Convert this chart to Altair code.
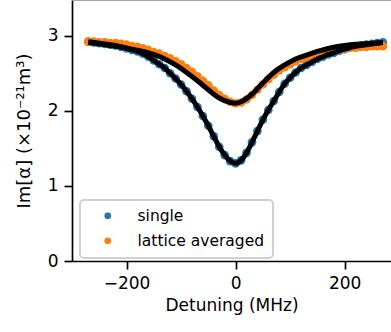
import altair as alt
import pandas as pd

# Detuning grid (MHz) of the scattered data
detuning = [-270, -260, -250, -240, -230, -220, -210, -200, -190, -180,
            -170, -160, -150, -140, -130, -120, -110, -100, -90, -80,
            -70, -60, -50, -40, -30, -20, -10, 0, 10, 20,
            30, 40, 50, 60, 70, 80, 90, 100, 110, 120,
            130, 140, 150, 160, 170, 180, 190, 200, 210, 220,
            230, 240, 250, 260, 270]

single = [2.92, 2.91, 2.90, 2.89, 2.88, 2.87, 2.85, 2.83, 2.81, 2.79,
          2.76, 2.72, 2.67, 2.62, 2.57, 2.50, 2.43, 2.35, 2.26, 2.16,
          2.05, 1.93, 1.80, 1.66, 1.52, 1.41, 1.33, 1.30, 1.34, 1.44,
          1.58, 1.73, 1.88, 2.01, 2.13, 2.25, 2.36, 2.44, 2.51, 2.57,
          2.61, 2.65, 2.69, 2.72, 2.75, 2.77, 2.80, 2.82, 2.84, 2.86,
          2.87, 2.88, 2.89, 2.90, 2.91]

lattice = [2.92, 2.92, 2.91, 2.91, 2.90, 2.90, 2.89, 2.88, 2.86, 2.85,
           2.83, 2.81, 2.78, 2.76, 2.73, 2.70, 2.66, 2.62, 2.57, 2.52,
           2.46, 2.40, 2.34, 2.27, 2.21, 2.16, 2.12, 2.10, 2.11, 2.15,
           2.21, 2.28, 2.35, 2.42, 2.48, 2.54, 2.58, 2.62, 2.66, 2.69,
           2.71, 2.74, 2.76, 2.78, 2.80, 2.81, 2.82, 2.83, 2.84, 2.84,
           2.85, 2.85, 2.86, 2.86, 2.86]

# Fit curves
fit_x = [-270, -250, -230, -210, -190, -170, -150, -130, -110, -90,
         -70, -50, -30, -10, 0, 10, 30, 50, 70, 90,
         110, 130, 150, 170, 190, 210, 230, 250, 270]
fit_lattice = [2.91, 2.89, 2.87, 2.85, 2.82, 2.79, 2.75, 2.69, 2.61, 2.51,
               2.40, 2.28, 2.17, 2.11, 2.10, 2.12, 2.22, 2.37, 2.51, 2.61,
               2.69, 2.74, 2.79, 2.83, 2.86, 2.88, 2.89, 2.90, 2.91]

series_names = ["single", "lattice averaged"]
series_colors = ["#1f77b4", "#ff7f0e"]

x_ticks = [-200, 0, 200]
y_ticks = [0, 1, 2, 3]

pts = pd.concat([
    pd.DataFrame({"x": detuning, "y": single, "s": series_names[0], "o": 0}),
    pd.DataFrame({"x": detuning, "y": lattice, "s": series_names[1], "o": 1}),
])
fit1 = pd.DataFrame({"x": detuning, "y": single})
fit2 = pd.DataFrame({"x": fit_x, "y": fit_lattice})

xs = alt.Scale(domain=[-300, 285], nice=False, zero=False)
ys = alt.Scale(domain=[0, 3.475], nice=False)

xax = alt.Axis(values=x_ticks, title="Detuning (MHz)", labelFlush=False, format="d")
yax = alt.Axis(values=y_ticks, title="Im[α] (×10⁻²¹m³)", format="d")

points = alt.Chart(pts).mark_circle(size=75, opacity=1).encode(
    x=alt.X("x:Q", scale=xs, axis=xax),
    y=alt.Y("y:Q", scale=ys, axis=yax),
    color=alt.Color("s:N", scale=alt.Scale(domain=series_names, range=series_colors),
                    legend=alt.Legend(title=None)),
    order=alt.Order("o:Q"),
)

line1 = alt.Chart(fit1).mark_line(color="black", strokeWidth=5, interpolate="monotone").encode(
    x=alt.X("x:Q", scale=xs), y=alt.Y("y:Q", scale=ys))
line2 = alt.Chart(fit2).mark_line(color="black", strokeWidth=5, interpolate="monotone").encode(
    x=alt.X("x:Q", scale=xs), y=alt.Y("y:Q", scale=ys))

top = alt.Chart(pd.DataFrame({"y": [3.475]})).mark_rule(color="#888888", strokeWidth=1.5).encode(
    y=alt.Y("y:Q", scale=ys), x=alt.value(0), x2=alt.value(319))

chart = alt.layer(points, line1, line2, top).properties(
    width=319, height=261,
    autosize=alt.AutoSizeParams(type="none"),
    padding={"left": 72, "top": 0, "right": 0, "bottom": 71},
).configure_view(stroke=None).configure_axis(
    grid=False, domainColor="black", domainWidth=1.7, tickColor="black", tickWidth=1.7,
    tickSize=8, labelFont="DejaVu Sans", titleFont="DejaVu Sans", labelFontSize=17,
    titleFontSize=17, titleFontWeight="normal", labelColor="black", titleColor="black",
    labelPadding=6,
).configure_axisX(titlePadding=6).configure_axisY(titlePadding=14, titleFontSize=18).configure_legend(
    orient="none", legendX=8, legendY=200, fillColor="rgba(255,255,255,0.8)",
    strokeColor="#d0d0d0", strokeWidth=2, cornerRadius=4, padding=8,
    symbolType="circle", symbolSize=45, symbolOffset=12, labelOffset=22,
    labelFont="DejaVu Sans", labelFontSize=15.5, labelColor="black", rowPadding=8,
    symbolStrokeWidth=0,
)

chart.save("out.html", embed_options={"renderer": "svg", "actions": False})
